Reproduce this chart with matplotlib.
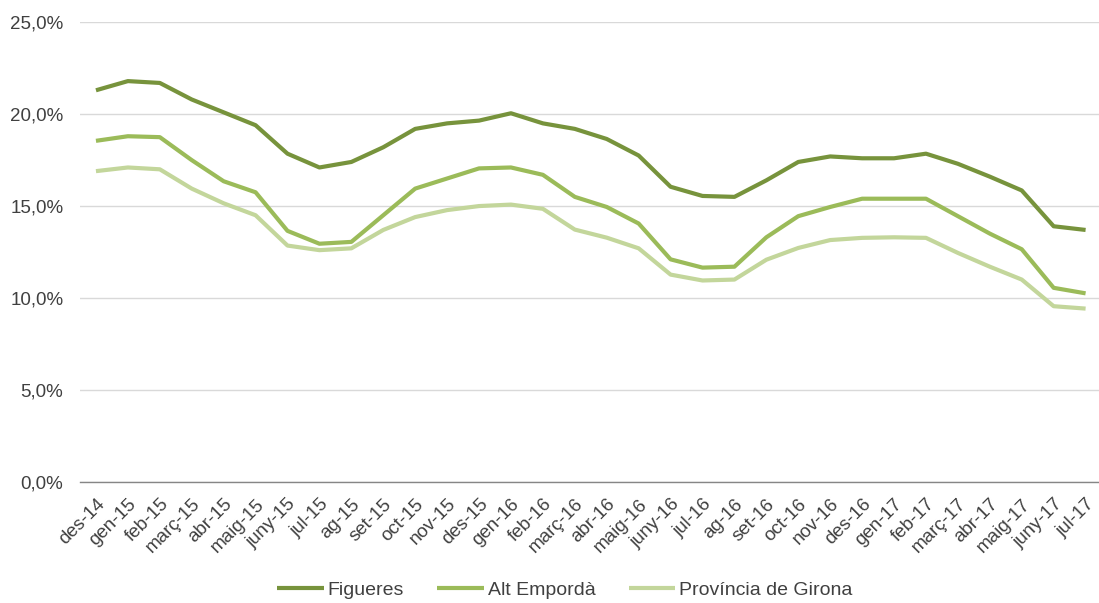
import matplotlib
matplotlib.use('Agg')
import matplotlib.pyplot as plt
from matplotlib.ticker import FuncFormatter

plt.rcParams['font.family'] = ['Liberation Sans', 'DejaVu Sans']

# ── data ──
months = ['des-14', 'gen-15', 'feb-15', 'març-15', 'abr-15', 'maig-15', 'juny-15',
          'jul-15', 'ag-15', 'set-15', 'oct-15', 'nov-15', 'des-15', 'gen-16',
          'feb-16', 'març-16', 'abr-16', 'maig-16', 'juny-16', 'jul-16', 'ag-16',
          'set-16', 'oct-16', 'nov-16', 'des-16', 'gen-17', 'feb-17', 'març-17',
          'abr-17', 'maig-17', 'juny-17', 'jul-17']

figueres = [21.3, 21.8, 21.7, 20.8, 20.1, 19.4, 17.85, 17.1, 17.4, 18.2, 19.2,
            19.5, 19.65, 20.05, 19.5, 19.2, 18.65, 17.75, 16.05, 15.55, 15.5,
            16.4, 17.4, 17.7, 17.6, 17.6, 17.85, 17.3, 16.6, 15.85, 13.9, 13.7]
alt_emporda = [18.55, 18.8, 18.75, 17.5, 16.35, 15.75, 13.65, 12.95, 13.05, 14.5,
               15.95, 16.5, 17.05, 17.1, 16.7, 15.5, 14.95, 14.05, 12.1, 11.65,
               11.7, 13.3, 14.45, 14.95, 15.4, 15.4, 15.4, 14.45, 13.5, 12.65,
               10.55, 10.25]
girona = [16.9, 17.1, 17.0, 15.95, 15.15, 14.5, 12.85, 12.6, 12.7, 13.7, 14.4,
          14.78, 15.0, 15.08, 14.85, 13.72, 13.28, 12.7, 11.27, 10.95, 11.0,
          12.08, 12.72, 13.15, 13.27, 13.3, 13.27, 12.45, 11.7, 11.0, 9.55, 9.42]

series = [('Figueres', figueres, '#77933C'),
          ('Alt Empordà', alt_emporda, '#9BBB59'),
          ('Província de Girona', girona, '#C3D69B')]

# ── figure ──
fig = plt.figure(figsize=(10.99, 6.03), dpi=100)
ax = fig.add_axes([80/1099, 1 - 481.7/603, 1 - 80/1099, (481.7 - 22.3)/603])

x = list(range(len(months)))
for name, vals, col in series:
    ax.plot(x, vals, color=col, linewidth=3, label=name, solid_capstyle='butt')

# a bit of room at the right so the last rotated label stays inside
ax.set_xlim(-0.5, 31.42)
ax.set_ylim(0, 25)
ax.set_yticks([0, 5, 10, 15, 20, 25])
ax.yaxis.set_major_formatter(FuncFormatter(lambda v, p: f'{v:.1f}%'.replace('.', ',')))
ax.set_xticks(x)
ax.set_xticklabels(months, rotation=45, ha='right', rotation_mode='anchor')

ax.grid(axis='y', color='#D9D9D9', linewidth=1)
ax.set_axisbelow(True)
for s in ['top', 'right', 'left']:
    ax.spines[s].set_visible(False)
ax.spines['bottom'].set_color('#868686')
ax.spines['bottom'].set_linewidth(1)
ax.tick_params(axis='both', length=0, labelsize=13.5, colors='#404040')
ax.tick_params(axis='y', pad=12)
ax.tick_params(axis='x', pad=10)

fig.legend(loc='center', bbox_to_anchor=(0.514, 1 - 590/603), ncol=3, frameon=False,
           fontsize=14, handlelength=2.4, handletextpad=0.2, columnspacing=1.7,
           labelcolor='#404040')

plt.savefig('out.png', dpi=100)
